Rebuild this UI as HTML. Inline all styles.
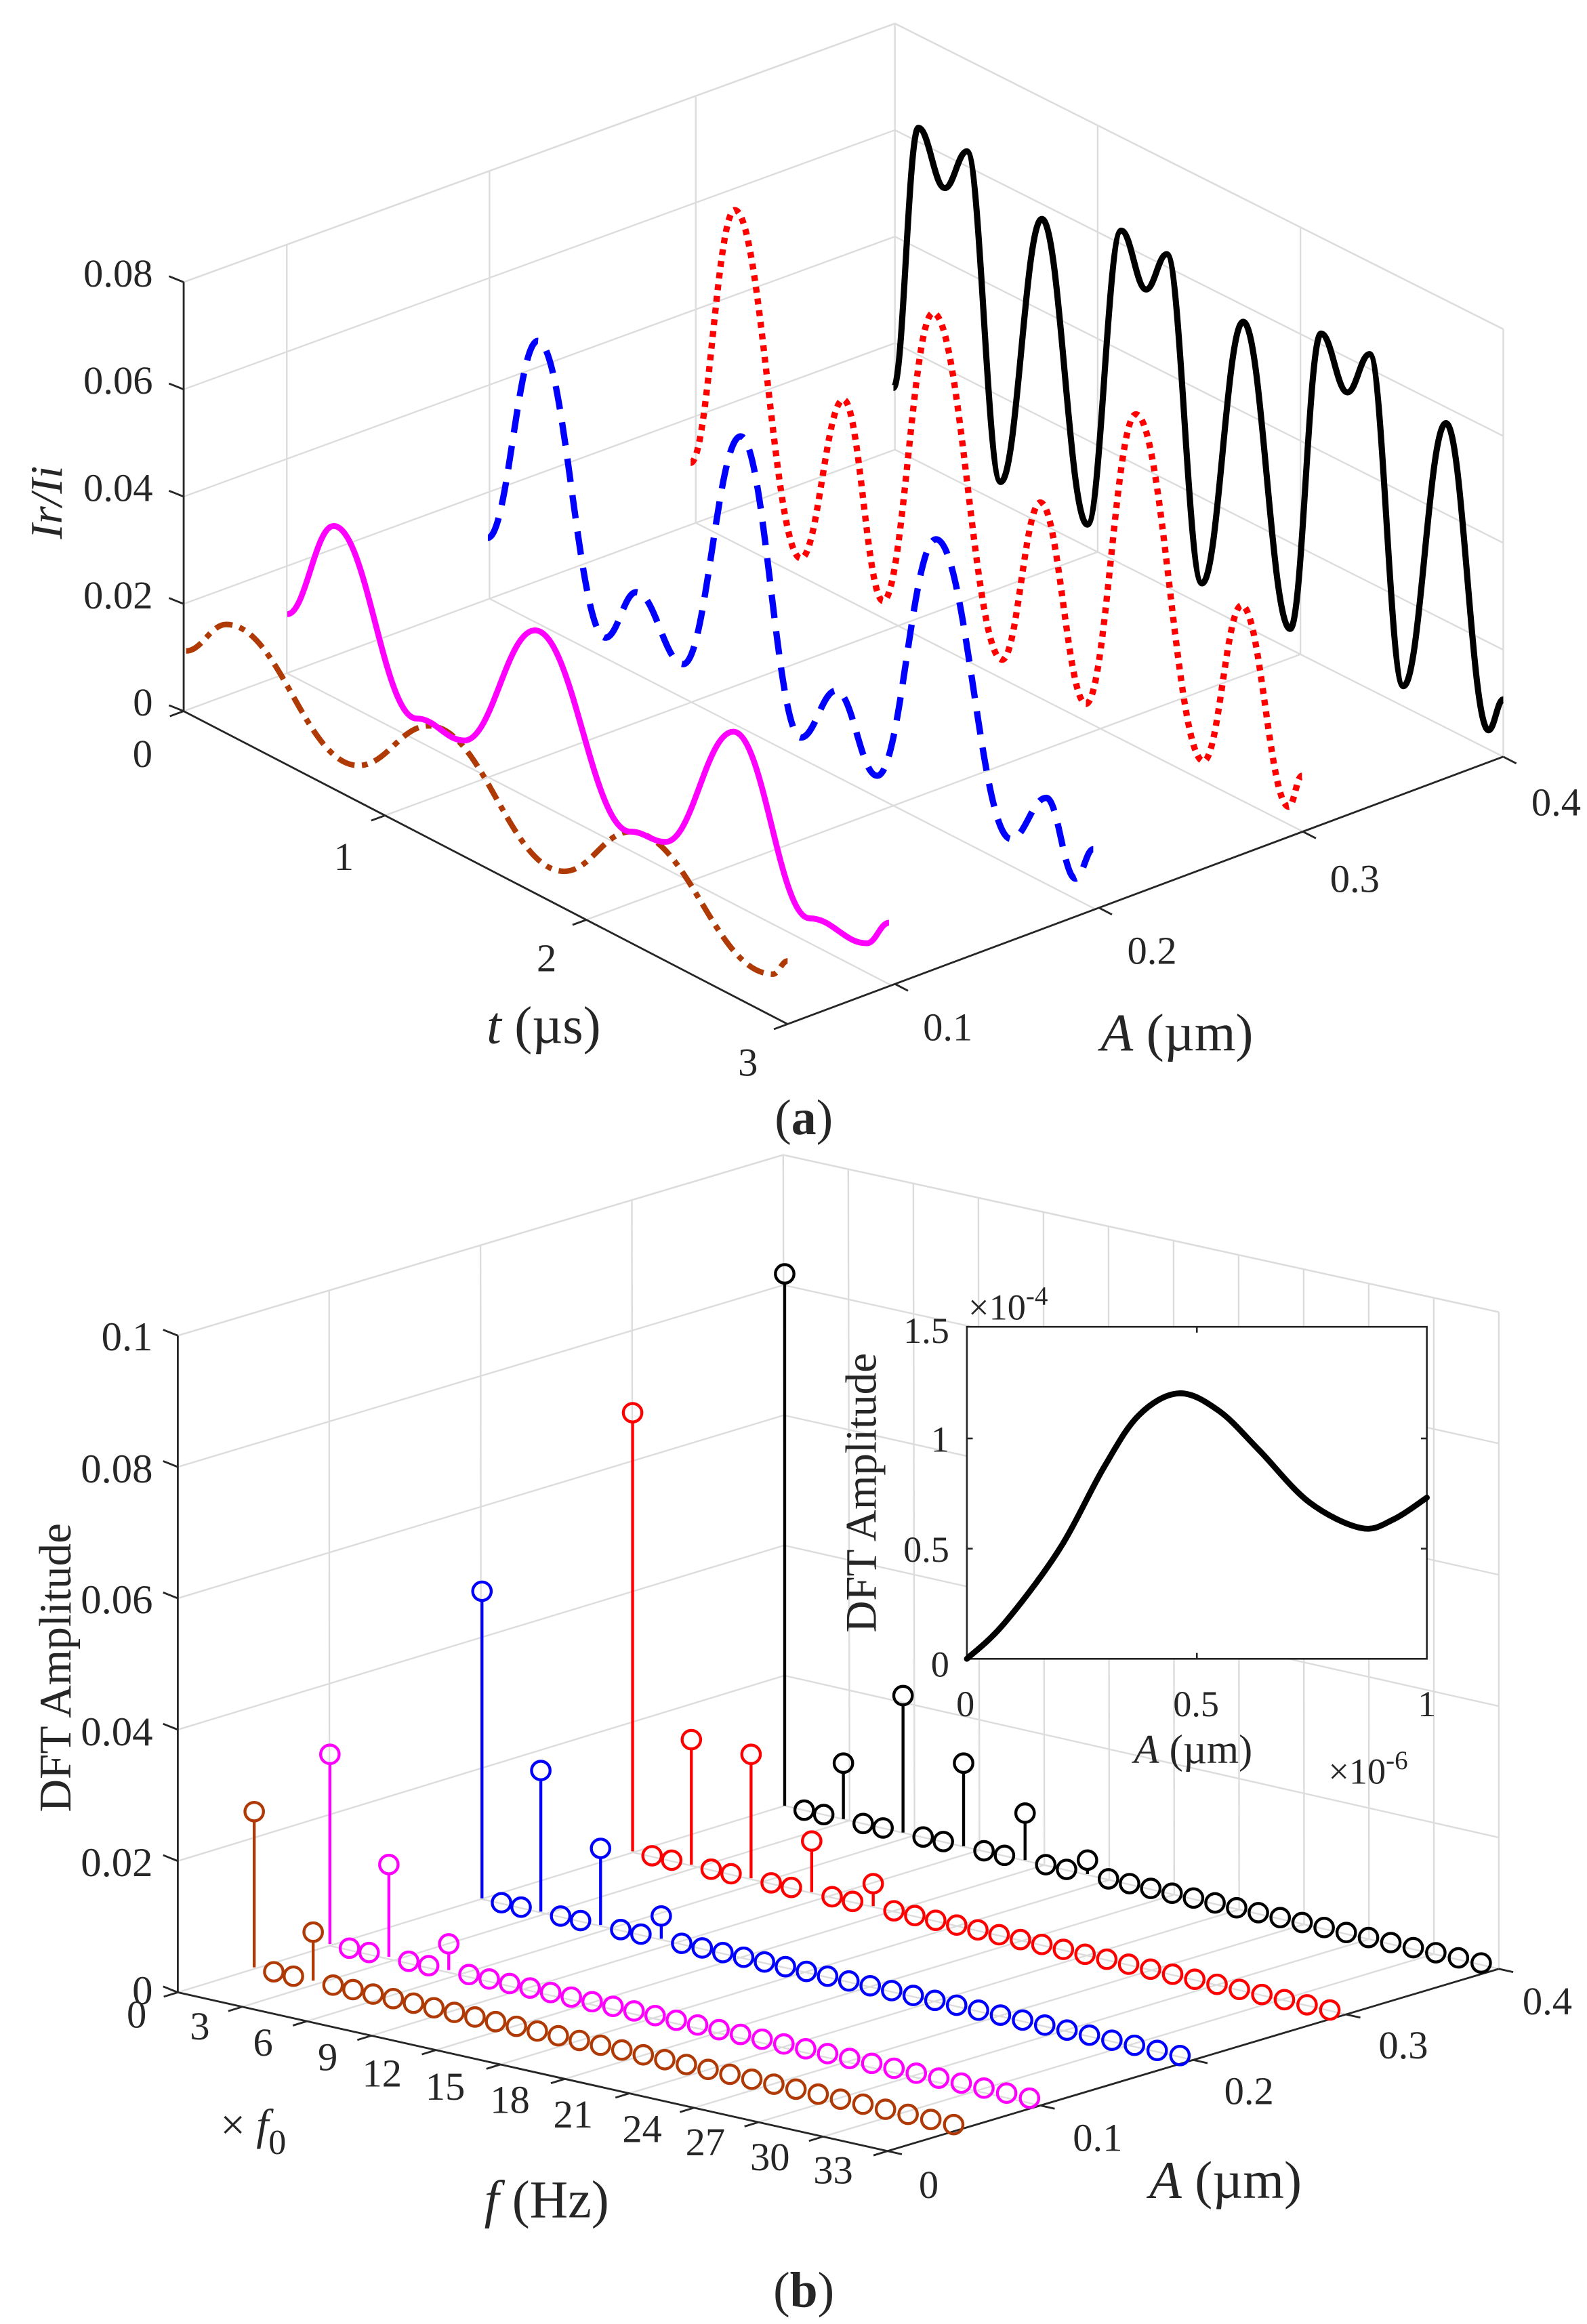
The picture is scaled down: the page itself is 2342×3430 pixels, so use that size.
<!DOCTYPE html>
<html><head><meta charset="utf-8">
<style>
html,body{margin:0;padding:0;background:#fff;}
svg{display:block;}
text{font-family:"Liberation Serif","Times New Roman",serif;fill:#262626;}
</style></head>
<body>
<svg id="s" xmlns="http://www.w3.org/2000/svg" width="2342" height="3430" viewBox="0 0 1080 1581.7">
<rect width="1080" height="1581.7" fill="#fff"/>
<g id="grid"></g>
<g id="axes"></g>
<g id="data"></g>
<g id="txt">
<g font-size="27" text-anchor="end">
<text x="104" y="195">0.08</text>
<text x="104" y="268">0.06</text>
<text x="104" y="341">0.04</text>
<text x="104" y="414">0.02</text>
<text x="104" y="487">0</text>
</g>
<g font-size="27" text-anchor="middle">
<text x="97" y="522">0</text>
<text x="234" y="592">1</text>
<text x="372" y="661">2</text>
<text x="509" y="732">3</text>
<text x="645" y="708">0.1</text>
<text x="784" y="656">0.2</text>
<text x="922" y="607">0.3</text>
<text x="1059" y="555">0.4</text>
</g>
<text x="370" y="710" font-size="36" text-anchor="middle"><tspan font-style="italic">t</tspan> (µs)</text>
<text x="801" y="715" font-size="36" text-anchor="middle"><tspan font-style="italic">A</tspan> (µm)</text>
<text transform="translate(42,342) rotate(-90)" font-size="31" text-anchor="middle" font-style="italic">Ir/Ii</text>
<text x="547" y="772" font-size="34" text-anchor="middle">(<tspan font-weight="bold">a</tspan>)</text>
<g font-size="28" text-anchor="end">
<text x="104" y="919">0.1</text>
<text x="104" y="1009">0.08</text>
<text x="104" y="1098">0.06</text>
<text x="104" y="1188">0.04</text>
<text x="104" y="1277">0.02</text>
<text x="104" y="1364">0</text>
</g>
<g font-size="27" text-anchor="middle">
<text x="93" y="1380">0</text>
<text x="136" y="1388">3</text>
<text x="179" y="1399">6</text>
<text x="223" y="1409">9</text>
<text x="260" y="1420">12</text>
<text x="303" y="1429">15</text>
<text x="347" y="1438">18</text>
<text x="390" y="1448">21</text>
<text x="437" y="1458">24</text>
<text x="480" y="1467">27</text>
<text x="524" y="1477">30</text>
<text x="567" y="1486">33</text>
<text x="632" y="1496">0</text>
<text x="747" y="1464">0.1</text>
<text x="850" y="1432">0.2</text>
<text x="955" y="1401">0.3</text>
<text x="1053" y="1371">0.4</text>
</g>
<text x="150" y="1456" font-size="30">× <tspan font-style="italic">f</tspan><tspan font-size="24" dy="10">0</tspan></text>
<text x="372" y="1509" font-size="36" text-anchor="middle"><tspan font-style="italic">f</tspan> (Hz)</text>
<text x="834" y="1496" font-size="36" text-anchor="middle"><tspan font-style="italic">A</tspan> (µm)</text>
<text transform="translate(48,1135) rotate(-90)" font-size="31" text-anchor="middle">DFT Amplitude</text>
<text x="547" y="1570" font-size="34" text-anchor="middle">(<tspan font-weight="bold">b</tspan>)</text>
</g>
<g id="inset">
<rect x="658" y="903" width="313" height="226" fill="#fff" stroke="#262626" stroke-width="1.2"/>
<g stroke="#262626" stroke-width="1.2">
<line x1="658" y1="979" x2="662" y2="979"/><line x1="658" y1="1054" x2="662" y2="1054"/>
<line x1="971" y1="979" x2="967" y2="979"/><line x1="971" y1="1054" x2="967" y2="1054"/>
<line x1="814.5" y1="1129" x2="814.5" y2="1125"/><line x1="814.5" y1="903" x2="814.5" y2="907"/>
</g>
<path id="ic" fill="none" stroke="#000" stroke-width="4" stroke-linecap="round"/>
<g font-size="25">
<text x="646" y="914" text-anchor="end">1.5</text>
<text x="646" y="988" text-anchor="end">1</text>
<text x="646" y="1063" text-anchor="end">0.5</text>
<text x="646" y="1141" text-anchor="end">0</text>
<text x="657" y="1168" text-anchor="middle">0</text>
<text x="814" y="1168" text-anchor="middle">0.5</text>
<text x="971" y="1168" text-anchor="middle">1</text>
<text x="659" y="898">×10<tspan font-size="18" dy="-10">-4</tspan></text>
<text x="904" y="1214">×10<tspan font-size="18" dy="-10">-6</tspan></text>
</g>
<text x="812" y="1200" font-size="28" text-anchor="middle"><tspan font-style="italic">A</tspan> (µm)</text>
<text transform="translate(596,1016) rotate(-90)" font-size="30" text-anchor="middle">DFT Amplitude</text>
</g>
</svg>
<script>
var NS="http://www.w3.org/2000/svg";
function el(p,t,a){var e=document.createElementNS(NS,t);for(var k in a)e.setAttribute(k,a[k]);document.getElementById(p).appendChild(e);return e;}
function L(a,b,t){return [a[0]+(b[0]-a[0])*t,a[1]+(b[1]-a[1])*t];}
function line(p,a,b,c,w){el(p,"line",{x1:a[0],y1:a[1],x2:b[0],y2:b[1],stroke:c,"stroke-width":w});}
var GC="#dcdcdc",GW=1.1,AC="#262626",AW=1.3;
function panel(O,F,R,B,TL,TB,TR,zf,Af,tf){
  zf.forEach(function(v){line("grid",L(O,TL,v),L(B,TB,v),GC,GW);line("grid",L(B,TB,v),L(R,TR,v),GC,GW);});
  Af.forEach(function(u){line("grid",L(O,B,u),L(TL,TB,u),GC,GW);line("grid",L(O,B,u),L(F,R,u),GC,GW);});
  tf.forEach(function(u){line("grid",L(B,R,u),L(TB,TR,u),GC,GW);line("grid",L(O,F,u),L(B,R,u),GC,GW);});
  line("grid",B,TB,GC,GW);line("grid",R,TR,GC,GW);line("grid",TL,TB,GC,GW);line("grid",TB,TR,GC,GW);
  line("grid",O,B,GC,GW);line("grid",B,R,GC,GW);
  line("axes",O,TL,AC,AW);line("axes",O,F,AC,AW);line("axes",F,R,AC,AW);
  var zl=[0].concat(zf);
  zl.forEach(function(v){var p=L(O,TL,v);line("axes",p,[p[0]-10,p[1]-4],AC,AW);});
  var d1=[O[0]-B[0],O[1]-B[1]],n1=Math.hypot(d1[0],d1[1]);
  [0].concat(tf,[1]).forEach(function(u){var p=L(O,F,u);line("axes",p,[p[0]+d1[0]/n1*10,p[1]+d1[1]/n1*10],AC,AW);});
  var d2=[F[0]-O[0],F[1]-O[1]],n2=Math.hypot(d2[0],d2[1]);
  return d2.concat([n2]);
}
var Oa=[125,484],Fa=[536,697],Ra=[1023,515],Ba=[609,306];
var r=panel(Oa,Fa,Ra,Ba,[125,192],[609,16],[1023,224],[.25,.5,.75,1],[.145,.43,.72],[1/3,2/3]);
[.15,.435,.72,1].forEach(function(u){var p=L(Fa,Ra,u);line("axes",p,[p[0]+r[0]/r[2]*10,p[1]+r[1]/r[2]*10],AC,AW);});
var Ob=[121,1356],Fb=[604,1464],Rb=[1020,1340],Bb=[534,1229];
var tfb=[];for(var k=1;k<11;k++)tfb.push(k/11);
r=panel(Ob,Fb,Rb,Bb,[121,909],[533,786],[1020,893],[.2,.4,.6,.8,1],[.25,.5,.75],tfb);
[0,.25,.5,.75,1].forEach(function(u){var p=L(Fb,Rb,u);line("axes",p,[p[0]+r[0]/r[2]*10,p[1]+r[1]/r[2]*10],AC,AW);});
function smooth(pts){var d="M"+pts[0][0]+","+pts[0][1];for(var i=1;i<pts.length;i++){var a=pts[i-1],b=pts[i],dx=(b[0]-a[0])*0.4;d+=" C"+(a[0]+dx)+","+a[1]+" "+(b[0]-dx)+","+b[1]+" "+b[0]+","+b[1];}return d;}
function curve(pts,c,w,da){var a={d:smooth(pts),fill:"none",stroke:c,"stroke-width":w,"stroke-linecap":"butt","stroke-linejoin":"round"};if(da)a["stroke-dasharray"]=da;el("data","path",a);}
curve([[126.6,443],[154,425],[244,521],[291.7,494],[384,593],[429,566],[526,663],[536,654]],"#b03a05",3.8,"12,5,4,5");
curve([[195.5,418],[227,358],[283.5,489],[316,504],[364,429],[429,566],[453,573],[499,498],[551,625],[590,642],[605,628]],"#ff00ff",4);
curve([[332,366],[366,232],[412,434],[433,403],[465,452],[504,297],[545,502],[569,470],[597,528],[637,367],[688,571],[712,543],[732,598],[744,578]],"#0000ff",4.3,"16,9");
curve([[470,315],[500,143],[545,380],[574,272],[601,409],[635,213],[682,449],[708,342],[739,479],[773,282],[819,518],[845,412],[877,549],[886,528]],"#ff0000",4.3,"4,4");
curve([[608,264],[625,87],[643,128],[658,103],[681,328],[709,149],[740,357],[763,157],[780,197],[794,173],[818,397],[846,219],[878,428],[899,227],[917,267],[932,241],[955,467],[984,288],[1013,497],[1023,476]],"#000",4.2);
var rows=[
 {c:"#b03a05",s:[173,1339],e:[649,1446],st:{0:1233,3:1315}},
 {c:"#ff00ff",s:[224.5,1323],e:[700.6,1428],st:{0:1194,3:1269,6:1323}},
 {c:"#0000ff",s:[328,1292],e:[803,1399],st:{0:1083,3:1205,6:1258,9:1304}},
 {c:"#ff0000",s:[430.5,1260],e:[905,1368],st:{0:961.5,3:1184,6:1194,9:1253,12:1282}},
 {c:"#000000",s:[534,1229],e:[1008,1336],st:{0:867,3:1200,6:1154,9:1200,12:1234,15:1266}}];
rows.forEach(function(rw){
 for(var f=0;f<=33;f++){var u=f/33,g=u*(0.92+0.08*u);var p=L(rw.s,rw.e,g);
  var cy=p[1];
  if(rw.st[f]!==undefined){cy=rw.st[f];line("data",p,[p[0],cy+6.3],rw.c,2);}
  el("data","circle",{cx:p[0],cy:cy,r:6.3,fill:"none",stroke:rw.c,"stroke-width":2});
 }
});
document.getElementById("ic").setAttribute("d",(function(){
 var pts=[[658,1129],[683.3,1105],[720.7,1054.8],[751.3,998.6],[775.1,963.1],[802.3,948.3],[829.5,960.2],[856.7,986.8],[890.7,1022.2],[926.4,1040],[948.5,1034],[971,1019.3]];
 var d="M"+pts[0];for(var i=1;i<pts.length;i++){var p0=pts[Math.max(0,i-2)],p1=pts[i-1],p2=pts[i],p3=pts[Math.min(pts.length-1,i+1)];
 d+=" C"+(p1[0]+(p2[0]-p0[0])/6)+","+(p1[1]+(p2[1]-p0[1])/6)+" "+(p2[0]-(p3[0]-p1[0])/6)+","+(p2[1]-(p3[1]-p1[1])/6)+" "+p2[0]+","+p2[1];}
 return d;})());
</script>
</body></html>
